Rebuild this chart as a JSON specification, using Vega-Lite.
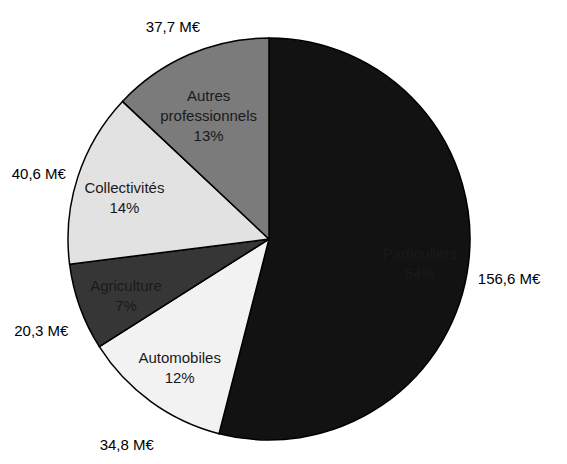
{
  "$schema": "https://vega.github.io/schema/vega-lite/v6.json",
  "autosize": {"type": "none"},
  "width": 538,
  "height": 450,
  "padding": {"left": 0, "top": 14, "right": 29, "bottom": 0},
  "background": "white",
  "data": {
    "values": [
      {"secteur": "Particuliers", "ordre": 1, "montant": 156.6, "etiquette": "Particuliers\n54%", "libelle": "156,6 M€"},
      {"secteur": "Automobiles", "ordre": 2, "montant": 34.8, "etiquette": "Automobiles\n12%", "libelle": "34,8 M€"},
      {"secteur": "Agriculture", "ordre": 3, "montant": 20.3, "etiquette": "Agriculture\n7%", "libelle": "20,3 M€"},
      {"secteur": "Collectivités", "ordre": 4, "montant": 40.6, "etiquette": "Collectivités\n14%", "libelle": "40,6 M€"},
      {"secteur": "Autres professionnels", "ordre": 5, "montant": 37.7, "etiquette": "Autres\nprofessionnels\n13%", "libelle": "37,7 M€"}
    ]
  },
  "encoding": {
    "theta": {"field": "montant", "type": "quantitative", "stack": true},
    "order": {"field": "ordre", "type": "quantitative"}
  },
  "layer": [
    {
      "mark": {"type": "arc", "outerRadius": 201, "stroke": "black", "strokeWidth": 1.5},
      "encoding": {
        "color": {
          "field": "secteur",
          "type": "nominal",
          "legend": null,
          "scale": {
            "domain": ["Particuliers", "Automobiles", "Agriculture", "Collectivités", "Autres professionnels"],
            "range": ["#121212", "#f2f2f2", "#363636", "#e2e2e2", "#7b7b7b"]
          }
        }
      }
    },
    {
      "mark": {"type": "text", "radius": 152, "dy": -4, "font": "Liberation Sans", "fontSize": 15, "lineBreak": "\n", "lineHeight": 20, "align": "center", "baseline": "middle", "fill": "#1a1a1a"},
      "encoding": {"text": {"field": "etiquette"}}
    },
    {
      "mark": {"type": "text", "radius": 242, "dy": 10, "font": "Liberation Sans", "fontSize": 15, "align": "center", "baseline": "middle", "fill": "black"},
      "encoding": {"text": {"field": "libelle"}}
    }
  ]
}
